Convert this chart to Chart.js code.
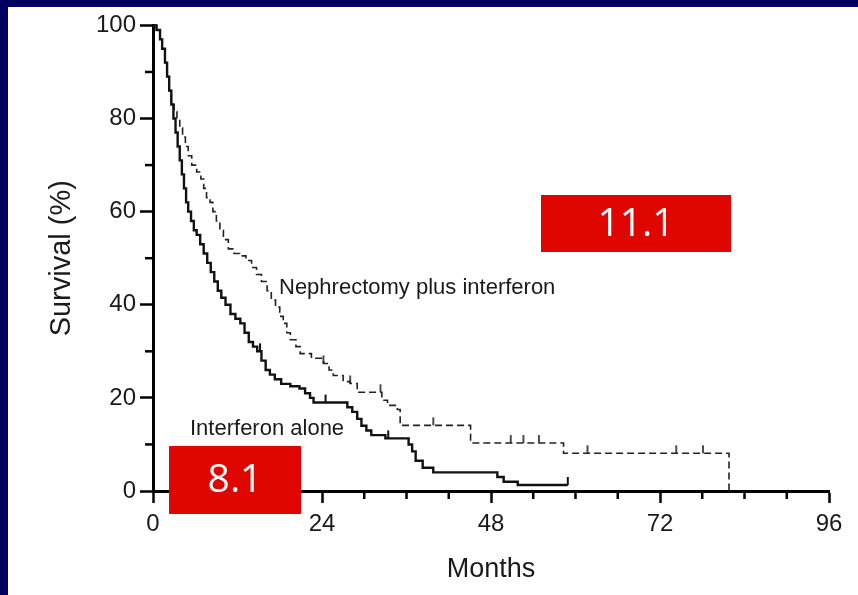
<!DOCTYPE html>
<html>
<head>
<meta charset="utf-8">
<script src="https://cdn.jsdelivr.net/npm/chart.js@4.4.1/dist/chart.umd.min.js"></script>
<style>
  html, body { margin: 0; padding: 0; background: #000060; width: 858px; height: 595px; overflow: hidden; }
  #wrap { position: absolute; left: 8px; top: 7px; width: 850px; height: 588px; background: #fff; }
</style>
</head>
<body>
<div id="wrap"><canvas id="survChart" width="850" height="588"></canvas></div>
<script>
// Kaplan-Meier curves: [month, survival %]
const interferonAlone = [
  [0, 100], [0.5, 99], [1, 97], [1.3, 95], [1.7, 92], [2, 89], [2.3, 86], [2.6, 83], [2.9, 80],
  [3.2, 77], [3.5, 74], [3.8, 71], [4.1, 68], [4.4, 65], [4.7, 62], [5, 60], [5.4, 58], [5.8, 56],
  [6.2, 55], [6.7, 53], [7.2, 51], [7.7, 49], [8.2, 47], [8.7, 45], [9.2, 43], [9.7, 41.5],
  [10.3, 40], [11, 38], [11.7, 37], [12.4, 36], [13, 34], [13.6, 32], [14.2, 31], [14.8, 30],
  [15.4, 28], [16, 26], [16.6, 25], [17.3, 24], [18.2, 23], [19.5, 22.5], [20.8, 22], [21.6, 21],
  [22.3, 20], [22.8, 19], [27.6, 18], [28.3, 17], [29, 15.5], [29.6, 14], [30.3, 13], [31, 12],
  [33, 11.3], [36.3, 10], [36.8, 8.5], [37.3, 6.5], [38.3, 5], [39.8, 4], [48.9, 3], [49.8, 2],
  [51.8, 1.3], [58.9, 1.3]
];
const nephrectomyPlus = [
  [0, 100], [0.5, 99], [1, 97], [1.3, 95], [1.7, 92], [2, 89], [2.3, 86], [2.6, 83], [3, 81.5],
  [3.4, 80], [3.8, 78], [4.2, 76], [4.6, 74], [5, 72], [5.5, 70], [6.2, 68.5], [6.8, 67], [7.2, 65],
  [7.6, 63], [8.1, 62], [8.5, 60], [9, 58], [9.5, 56], [10, 54], [10.7, 52], [11.5, 51],
  [12.3, 50.5], [13.2, 49.5], [14, 48], [14.7, 46.5], [15.4, 45], [16.2, 43], [16.8, 41],
  [17.4, 39.5], [18, 37.5], [18.5, 36], [19, 34], [19.5, 32.5], [20.3, 31], [20.9, 29.5],
  [22.5, 28.5], [24.2, 27.4], [25, 26], [25.6, 24.8], [27, 23.5], [28, 23.1], [29, 21.2],
  [32.5, 19.5], [33.3, 18.4], [34.7, 17.5], [35.1, 14.1], [45.1, 10.3], [58.3, 8.1], [81.8, 0]
];
// censored observations (tick marks)
const interferonCensored = [[15.2, 30], [24.5, 19], [33.4, 11.3], [58.9, 1.3]];
const nephrectomyCensored = [
  [24.2, 27.4], [28, 23.1], [32.3, 21.2], [39.8, 14.1], [50.8, 10.3], [52.6, 10.3],
  [54.8, 10.3], [61.7, 8.1], [74.3, 8.1], [78.1, 8.1]
];
const xTickLabels = [0, 24, 48, 72, 96];
const yTickLabels = [0, 20, 40, 60, 80, 100];
const medianNeph = '11.1';
const medianIfn = '8.1';

const toXY = arr => arr.map(p => ({ x: p[0], y: p[1] }));

// small upward tick used for censor marks
function censorMark(w) {
  const c = document.createElement('canvas');
  c.width = 4; c.height = 18;
  const g = c.getContext('2d');
  g.strokeStyle = '#111';
  g.lineWidth = w;
  g.beginPath(); g.moveTo(2, 1); g.lineTo(2, 9); g.stroke();
  return c;
}

const extras = {
  id: 'extras',
  afterDraw(chart) {
    const ctx = chart.ctx;
    const xs = chart.scales.x, ys = chart.scales.y;
    ctx.save();
    // minor ticks
    ctx.strokeStyle = '#000';
    ctx.lineWidth = 2.5;
    ys.ticks.forEach(t => {
      if (yTickLabels.includes(t.value)) return;
      const py = ys.getPixelForValue(t.value);
      ctx.beginPath(); ctx.moveTo(ys.right, py); ctx.lineTo(ys.right - 8, py); ctx.stroke();
    });
    xs.ticks.forEach(t => {
      if (xTickLabels.includes(t.value)) return;
      const px = xs.getPixelForValue(t.value);
      ctx.beginPath(); ctx.moveTo(px, xs.top); ctx.lineTo(px, xs.top + 8); ctx.stroke();
    });
    // curve labels
    ctx.fillStyle = '#1a1a1a';
    ctx.font = '22px "Liberation Sans", Arial, sans-serif';
    ctx.textBaseline = 'middle';
    ctx.textAlign = 'left';
    ctx.fillText('Nephrectomy plus interferon', 271, 281);
    ctx.fillText('Interferon alone', 182, 422);
    // median boxes
    ctx.fillStyle = '#e00600';
    ctx.fillRect(533, 188, 190, 57);
    ctx.fillRect(161, 439, 132, 68);
    ctx.fillStyle = '#fff';
    ctx.font = '39px "Open Sans", sans-serif';
    ctx.textAlign = 'center';
    ctx.fillText(medianNeph, 628, 218);
    ctx.fillText(medianIfn, 227, 474);
    ctx.restore();
  }
};

new Chart(document.getElementById('survChart').getContext('2d'), {
  type: 'line',
  data: {
    datasets: [
      {
        data: toXY(interferonAlone), stepped: true, borderColor: '#111', borderWidth: 2.4,
        pointRadius: 0, fill: false, clip: false
      },
      {
        data: toXY(nephrectomyPlus), stepped: true, borderColor: '#222', borderWidth: 1.6,
        borderDash: [7, 4], pointRadius: 0, fill: false, clip: false
      },
      {
        type: 'scatter', data: toXY(interferonCensored), showLine: false,
        pointStyle: censorMark(2), clip: false
      },
      {
        type: 'scatter', data: toXY(nephrectomyCensored), showLine: false,
        pointStyle: censorMark(1.5), clip: false
      }
    ]
  },
  options: {
    responsive: false,
    animation: false,
    events: [],
    layout: { padding: { top: 17, right: 29, left: 0, bottom: 0 } },
    plugins: { legend: { display: false }, tooltip: { enabled: false } },
    scales: {
      x: {
        type: 'linear', min: 0, max: 96,
        afterFit(s) { s.height = 104; },
        border: { display: true, color: '#000', width: 3 },
        grid: {
          drawOnChartArea: false, tickLength: 12, tickWidth: 2.5,
          tickColor: c => xTickLabels.includes(c.tick.value) ? '#000' : 'transparent'
        },
        ticks: {
          stepSize: 6, autoSkip: false, maxRotation: 0, padding: 7, color: '#1a1a1a',
          font: { family: '"Liberation Sans", Arial, sans-serif', size: 24 },
          callback: v => xTickLabels.includes(v) ? String(v) : ''
        },
        title: {
          display: true, text: 'Months', color: '#1a1a1a',
          font: { family: '"Liberation Sans", Arial, sans-serif', size: 27 },
          padding: { top: 0, bottom: 9 }
        }
      },
      y: {
        type: 'linear', min: 0, max: 100,
        afterFit(s) { s.width = 145; },
        border: { display: true, color: '#000', width: 3 },
        grid: {
          drawOnChartArea: false, tickLength: 13, tickWidth: 2.5,
          tickColor: c => yTickLabels.includes(c.tick.value) ? '#000' : 'transparent'
        },
        ticks: {
          stepSize: 10, autoSkip: false, padding: 4, color: '#1a1a1a',
          font: { family: '"Liberation Sans", Arial, sans-serif', size: 24 },
          callback: v => yTickLabels.includes(v) ? String(v) : ''
        },
        title: {
          display: true, text: 'Survival (%)', color: '#1a1a1a',
          font: { family: '"Liberation Sans", Arial, sans-serif', size: 29 },
          padding: { top: 37, bottom: 0 }
        }
      }
    }
  },
  plugins: [extras]
});
</script>
</body>
</html>
